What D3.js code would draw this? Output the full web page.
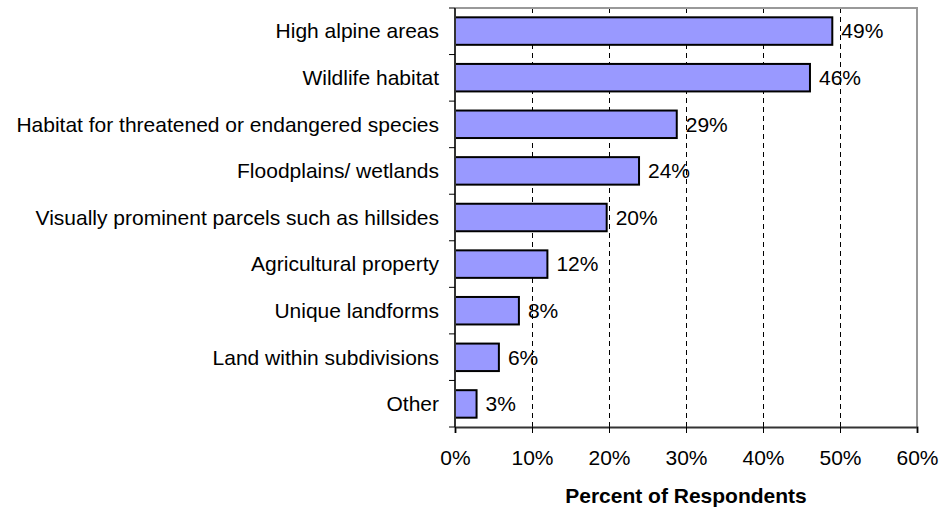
<!DOCTYPE html>
<html>
<head>
<meta charset="utf-8">
<script src="https://cdn.jsdelivr.net/npm/d3@7"></script>
<style>
  body { margin: 0; background: #fff; }
  text { font-family: "Liberation Sans", Arial, sans-serif; }
</style>
</head>
<body>
<script>
// categories and values
const categories = [
    "High alpine areas",
    "Wildlife habitat",
    "Habitat for threatened or endangered species",
    "Floodplains/ wetlands",
    "Visually prominent parcels such as hillsides",
    "Agricultural property",
    "Unique landforms",
    "Land within subdivisions",
    "Other"
];
const values = [49.0, 46.1, 28.8, 23.9, 19.7, 12.0, 8.3, 5.7, 2.8];
const labels = ["49%", "46%", "29%", "24%", "20%", "12%", "8%", "6%", "3%"];
const xTicks = [0, 10, 20, 30, 40, 50, 60];

const data = categories.map((c, i) => ({ cat: c, value: values[i], label: labels[i] }));

const fontSize = "21px";

// dimensions and margins
const margin = { top: 8, right: 26, bottom: 81, left: 455 };
const width = 943 - margin.left - margin.right;
const height = 508 - margin.top - margin.bottom;

const svg = d3.select("body").append("svg")
    .attr("width", 943)
    .attr("height", 508)
    .append("g")
    .attr("transform", "translate(" + margin.left + "," + margin.top + ")");

// scales
const xScale = d3.scaleLinear()
    .domain([0, 60])
    .range([0, width]);

const yScale = d3.scaleBand()
    .domain(categories)
    .range([0, height])
    .paddingInner(0.41)
    .paddingOuter(0.2);

// dashed gridlines
svg.selectAll("line.grid")
    .data(xTicks.filter(t => t > 0 && t < 60))
    .enter().append("line")
    .attr("class", "grid")
    .attr("x1", d => xScale(d) + 0.5)
    .attr("x2", d => xScale(d) + 0.5)
    .attr("y1", 0)
    .attr("y2", height)
    .style("stroke", "#000")
    .style("stroke-width", 1)
    .style("stroke-dasharray", "5,4");

// plot area border (top and right)
svg.append("path")
    .attr("d", "M0,0H" + width + "V" + height)
    .style("fill", "none")
    .style("stroke", "#999")
    .style("stroke-width", 2);

// bars
svg.selectAll("rect.bar")
    .data(data)
    .enter().append("rect")
    .attr("class", "bar")
    .attr("x", xScale(0))
    .attr("y", d => yScale(d.cat))
    .attr("width", d => xScale(d.value) - xScale(0))
    .attr("height", yScale.bandwidth())
    .style("fill", "#9999ff")
    .style("stroke", "#000")
    .style("stroke-width", 2);

// value labels
svg.selectAll("text.val")
    .data(data)
    .enter().append("text")
    .attr("class", "val")
    .attr("x", d => xScale(d.value) + 9)
    .attr("y", d => yScale(d.cat) + yScale.bandwidth() / 2)
    .attr("dy", "0.35em")
    .style("font-size", fontSize)
    .text(d => d.label);

// x axis
const xAxis = svg.append("g")
    .attr("transform", "translate(0," + height + ")")
    .call(d3.axisBottom(xScale).tickValues(xTicks).tickSize(6).tickPadding(17).tickFormat(d => d + "%"));
xAxis.select(".domain").style("stroke", "#333").style("stroke-width", 2);
xAxis.selectAll(".tick line").style("stroke", "#000");
xAxis.selectAll(".tick text")
    .style("font-size", fontSize)
    .style("font-family", "'Liberation Sans', Arial, sans-serif")
    .style("fill", "#000");

// y axis: ticks at the band boundaries
const yAxis = svg.append("g");
yAxis.append("line")
    .attr("x1", 0).attr("x2", 0)
    .attr("y1", 0).attr("y2", height)
    .style("stroke", "#333")
    .style("stroke-width", 2);
yAxis.selectAll("line.ytick")
    .data(d3.range(categories.length + 1))
    .enter().append("line")
    .attr("class", "ytick")
    .attr("x1", -6).attr("x2", 0)
    .attr("y1", i => i * height / categories.length)
    .attr("y2", i => i * height / categories.length)
    .style("stroke", "#000");
yAxis.selectAll("text.cat")
    .data(categories)
    .enter().append("text")
    .attr("class", "cat")
    .attr("x", -16)
    .attr("y", d => yScale(d) + yScale.bandwidth() / 2)
    .attr("dy", "0.35em")
    .style("text-anchor", "end")
    .style("font-size", fontSize)
    .text(d => d);

// axis title
svg.append("text")
    .attr("x", width / 2)
    .attr("y", height + 76)
    .style("text-anchor", "middle")
    .style("font-size", fontSize)
    .style("font-weight", "bold")
    .text("Percent of Respondents");
</script>
</body>
</html>
